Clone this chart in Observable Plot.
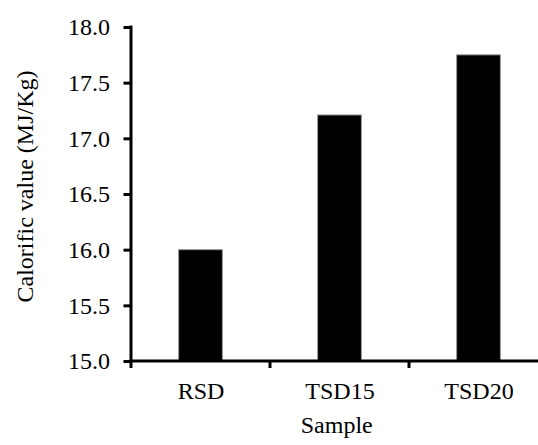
<!DOCTYPE html>
<html><head><meta charset="utf-8">
<script src="https://cdn.jsdelivr.net/npm/d3@7"></script>
<script src="https://cdn.jsdelivr.net/npm/@observablehq/plot@0.6"></script>
<style>html,body{margin:0;padding:0;background:#fff} svg{display:block}
#chart svg text{font-family:"Liberation Serif","Times New Roman",serif !important;font-size:24px !important;fill:#000}</style>
</head><body><div id="chart"></div>
<script>
const samples = ["RSD", "TSD15", "TSD20"];
const calorificValues = [16.0, 17.21, 17.75];
const yTicks = [15.0, 15.5, 16.0, 16.5, 17.0, 17.5, 18.0];
const xLabel = "Sample";
const yLabel = "Calorific value (MJ/Kg)";

const data = samples.map((s, i) => ({sample: s, value: calorificValues[i]}));
const font = '"Liberation Serif", "Times New Roman", serif';

// axis lines and band-boundary ticks drawn through the scales
const axisLines = (index, scales, values, dims) => {
  const g = d3.create("svg:g").attr("stroke", "black").attr("stroke-width", 3).attr("fill", "none");
  const x = scales.x, y = scales.y;
  const yb = y(yTicks[0]), yt = y(yTicks[yTicks.length - 1]);
  const xl = x(samples[0]);
  g.append("line").attr("x1", xl).attr("x2", xl).attr("y1", yt - 1.5).attr("y2", yb + 7);
  g.append("line").attr("x1", xl - 1.5).attr("x2", dims.width).attr("y1", yb).attr("y2", yb);
  samples.slice(1).forEach(s => {
    g.append("line").attr("x1", x(s)).attr("x2", x(s)).attr("y1", yb).attr("y2", yb + 7);
  });
  return g.node();
};

const chart = Plot.plot({
  width: 538,
  height: 445,
  marginLeft: 130.5,
  marginRight: 0,
  marginTop: 27,
  marginBottom: 84,
  style: `font-family: ${font}; font-size: 24px; color: black; background: white;`,
  x: {domain: samples, range: [130.5, 548], padding: 0},
  y: {domain: [15, 18]},
  marks: [
    Plot.barY(data, {x: "sample", y1: () => yTicks[0], y2: "value", fill: "black",
      stroke: "#9a9a9a", strokeWidth: 1, insetLeft: 47.6, insetRight: 47.6}),
    Plot.axisY({ticks: yTicks, tickFormat: d3.format(".1f"), tickSize: 7, tickPadding: 14,
      strokeWidth: 3, fontSize: 24, fontFamily: font, label: null}),
    Plot.axisX({tickSize: 0, tickPadding: 20, fontSize: 24, fontFamily: font, label: null}),
    axisLines,
    Plot.text([xLabel], {frameAnchor: "bottom", textAnchor: "middle", lineAnchor: "middle",
      dy: 64.3, dx: 2, fontSize: 24, fontFamily: font, fill: "black"}),
    Plot.text([yLabel], {frameAnchor: "left", textAnchor: "middle", lineAnchor: "middle",
      rotate: -90, dx: -105.5, dy: -8, fontSize: 24, fontFamily: font, fill: "black"})
  ]
});
document.getElementById("chart").appendChild(chart);
</script>
</body></html>
